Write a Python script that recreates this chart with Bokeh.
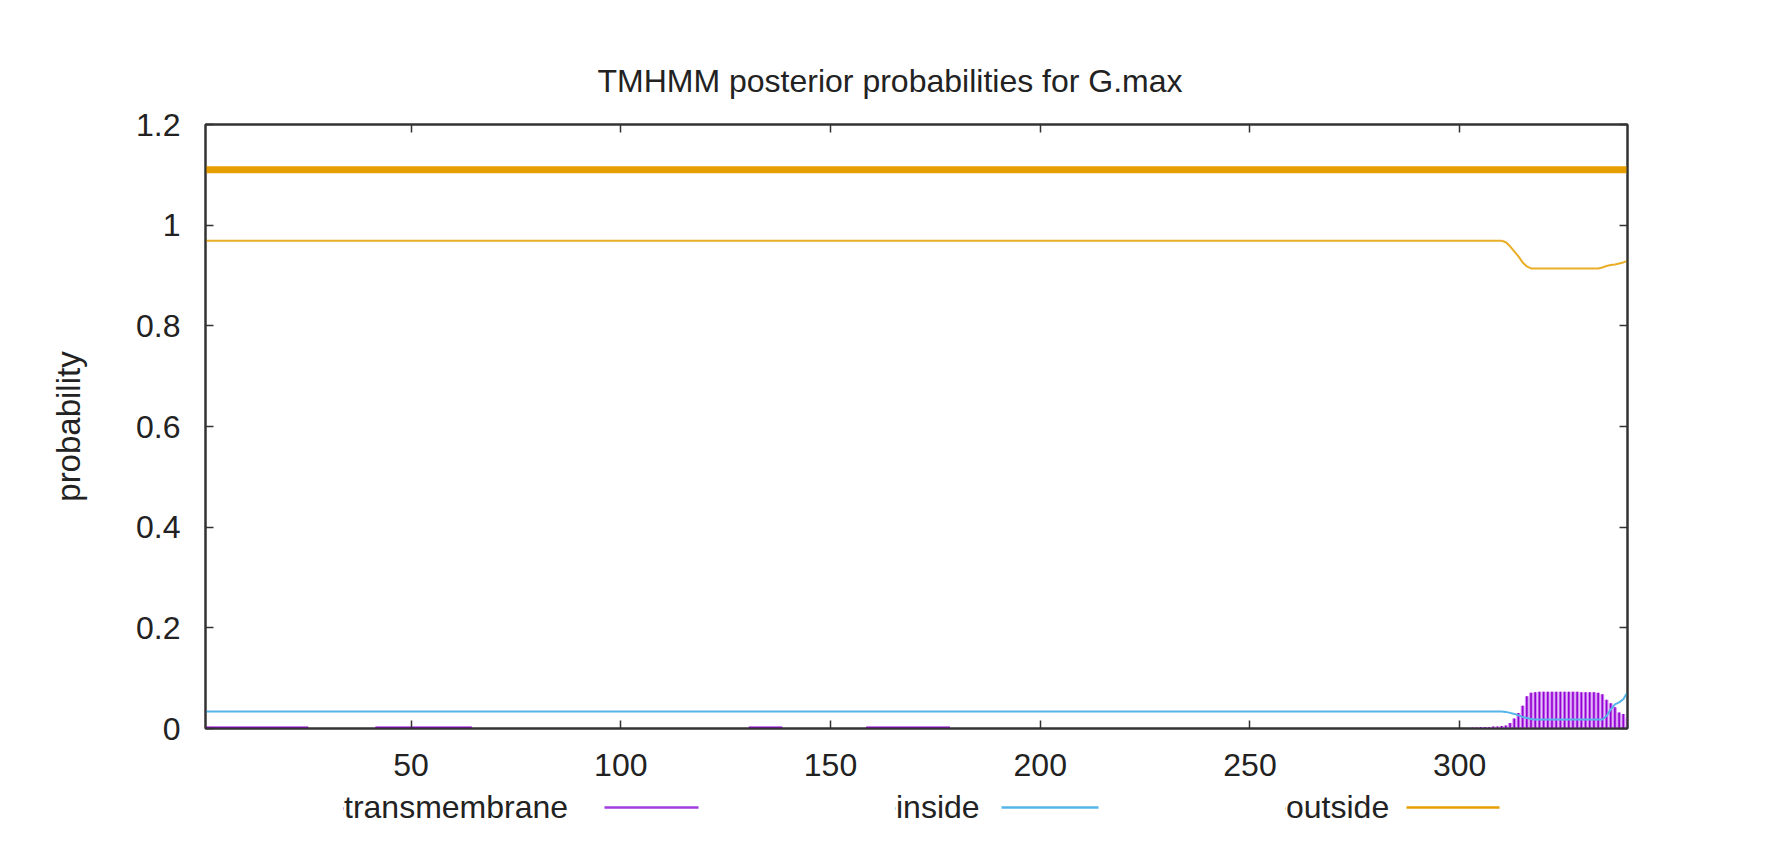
from bokeh.plotting import figure
from bokeh.models import Range1d, FixedTicker, LinearAxis, Legend, LegendItem
from bokeh.layouts import column
from bokeh.embed import file_html
from bokeh.resources import INLINE

# ---------------- data ----------------
title_text = "TMHMM posterior probabilities for G.max"
y_label = "probability"

x_ticks = [50, 100, 150, 200, 250, 300]
y_ticks = [0, 0.2, 0.4, 0.6, 0.8, 1, 1.2]
y_tick_labels = ["0", "0.2", "0.4", "0.6", "0.8", "1", "1.2"]

seq_start = 1
seq_end = 340

# predicted topology (whole sequence outside)
topology_start = [1]
topology_end = [340]
topology_level = [1.11]

# outside posterior (knots where the curve changes)
outside_pos = [1, 310, 311, 312, 313, 314, 315, 316, 317, 318, 333, 334, 335, 336, 337, 338, 339, 340]
outside_prob = [0.969, 0.969, 0.966, 0.958, 0.948, 0.938, 0.926, 0.918, 0.914, 0.914, 0.914, 0.916, 0.919, 0.921, 0.922, 0.924, 0.926, 0.929]

# inside posterior
inside_pos = [1, 310, 311, 312, 313, 314, 315, 316, 317, 318, 334, 335, 336, 337, 338, 339, 340]
inside_prob = [0.034, 0.034, 0.033, 0.031, 0.029, 0.026, 0.023, 0.021, 0.019, 0.018, 0.018, 0.025, 0.038, 0.048, 0.052, 0.058, 0.072]

# transmembrane posterior (impulses)
tm_pos = [303, 304, 305, 306, 307, 308, 309, 310, 311, 312, 313, 314, 315, 316, 317, 318, 319, 320,
          321, 322, 323, 324, 325, 326, 327, 328, 329, 330, 331, 332, 333, 334, 335, 336, 337, 338, 339, 340]
tm_prob = [0.002, 0.002, 0.003, 0.003, 0.003, 0.004, 0.004, 0.005, 0.006, 0.011, 0.020, 0.031, 0.045, 0.064, 0.071, 0.072,
           0.073, 0.073, 0.073, 0.073, 0.073, 0.073, 0.073, 0.073, 0.073, 0.073, 0.072, 0.072, 0.072, 0.072,
           0.071, 0.068, 0.057, 0.050, 0.042, 0.032, 0.029, 0.022]
# faint transmembrane stretches near zero
tm_low_start = [1, 42, 131, 159]
tm_low_end = [25, 64, 138, 178]
tm_low_prob = [0.004, 0.004, 0.004, 0.004]

legend_labels = ["transmembrane", "inside", "outside"]

# ---------------- style / layout ----------------
FONT = "Liberation Sans"
TXT = "#222222"
AX = "#333333"
C_TM = "#9400d3"
C_TM_FILL = "#d08af2"
C_TM_KEY = "#a23be0"
C_IN = "#56b4e9"
C_OUT = "#e69f00"
W = 1772
FRAME_L, FRAME_R = 205, 145
MAIN_H = 790
STRIP_H = 50
# legend strip geometry (page pixels): text left edge, key sample span, key row
LEG_TEXT_X = [343, 895, 1285]
LEG_KEY_X0 = [604, 1001, 1406]
LEG_KEY_X1 = [698, 1098, 1499]
LEG_ROW_Y = 807

p = figure(width=W, height=MAIN_H,
           x_range=Range1d(seq_start, seq_end), y_range=Range1d(0, 1.2),
           output_backend="svg", toolbar_location=None,
           title=title_text, y_axis_label=y_label,
           min_border_left=FRAME_L, min_border_right=FRAME_R,
           min_border_top=124, min_border_bottom=MAIN_H - 728)

p.background_fill_color = "white"
p.border_fill_color = "white"
p.outline_line_color = AX
p.outline_line_width = 2
p.xgrid.visible = False
p.ygrid.visible = False

p.title.text_font = FONT
p.title.text_font_size = "32px"
p.title.text_font_style = "normal"
p.title.text_color = TXT
p.title.align = "left"
p.title.offset = 392
p.title.standoff = 52


def style_axis(ax):
    ax.axis_line_color = AX
    ax.axis_line_width = 2
    ax.major_tick_line_color = AX
    ax.major_tick_line_width = 1.5
    ax.major_tick_in = 8
    ax.major_tick_out = 0
    ax.minor_tick_line_color = None
    ax.major_label_text_font = FONT
    ax.major_label_text_color = TXT
    ax.major_label_text_font_size = "32px"


xa = p.xaxis[0]
xa.ticker = FixedTicker(ticks=x_ticks)
style_axis(xa)
xa.major_label_standoff = 25

ya = p.yaxis[0]
ya.ticker = FixedTicker(ticks=y_ticks)
ya.major_label_overrides = {t: s for t, s in zip(y_ticks, y_tick_labels)}
style_axis(ya)
ya.major_label_standoff = 25
ya.axis_label_text_font = FONT
ya.axis_label_text_font_size = "33px"
ya.axis_label_text_font_style = "normal"
ya.axis_label_text_color = TXT
ya.axis_label_standoff = 46

# mirrored tick marks on top and right (no labels)
top_ax = LinearAxis(ticker=FixedTicker(ticks=x_ticks))
style_axis(top_ax)
top_ax.major_label_text_color = None
top_ax.major_label_text_font_size = "1px"
top_ax.major_label_standoff = 0
p.add_layout(top_ax, "above")
right_ax = LinearAxis(ticker=FixedTicker(ticks=y_ticks))
style_axis(right_ax)
right_ax.major_label_text_color = None
right_ax.major_label_text_font_size = "1px"
right_ax.major_label_standoff = 0
p.add_layout(right_ax, "right")

# ---------------- glyphs ----------------
p.quad(left=[s - 0.5 for s in tm_low_start], right=[e + 0.5 for e in tm_low_end],
       bottom=0, top=tm_low_prob, fill_color=C_TM, line_color=None)
p.vbar(x=tm_pos, top=tm_prob, bottom=0, width=0.9, fill_color=C_TM_FILL, line_color=None)
p.segment(x0=tm_pos, y0=[0] * len(tm_pos), x1=tm_pos, y1=tm_prob,
          line_color=C_TM, line_width=1.6)
p.line(inside_pos, inside_prob, line_color=C_IN, line_width=2)
p.line(outside_pos, outside_prob, line_color=C_OUT, line_width=2, line_alpha=0.85)
p.segment(x0=topology_start, y0=topology_level, x1=topology_end, y1=topology_level,
          line_color=C_OUT, line_width=7)

# ---------------- legend strip below the plot (gnuplot style: text, then key) ----------------
lg = figure(width=W, height=STRIP_H,
            x_range=Range1d(FRAME_L, W - FRAME_R), y_range=Range1d(MAIN_H + STRIP_H, MAIN_H),
            output_backend="svg", toolbar_location=None,
            x_axis_type=None, y_axis_type=None,
            min_border_left=FRAME_L, min_border_right=FRAME_R,
            min_border_top=0, min_border_bottom=0)
lg.outline_line_color = None
lg.background_fill_color = "white"
lg.border_fill_color = "white"
lg.xgrid.visible = False
lg.ygrid.visible = False

key_colors = [C_TM_KEY, C_IN, C_OUT]
for lab, col, tx, kx0, kx1 in zip(legend_labels, key_colors, LEG_TEXT_X, LEG_KEY_X0, LEG_KEY_X1):
    key = lg.segment(x0=[kx0], y0=[LEG_ROW_Y], x1=[kx1], y1=[LEG_ROW_Y],
                     line_color=col, line_width=2.5)
    leg = Legend(items=[LegendItem(label=lab, renderers=[key])],
                 location=(tx - FRAME_L, 14), orientation="horizontal",
                 glyph_width=1, glyph_height=20, label_standoff=0,
                 padding=0, margin=0, border_line_color=None, background_fill_alpha=0,
                 label_text_font=FONT, label_text_font_size="32px", label_text_color=TXT)
    lg.add_layout(leg)

open("out.html", "w").write(file_html(column(p, lg), INLINE))
